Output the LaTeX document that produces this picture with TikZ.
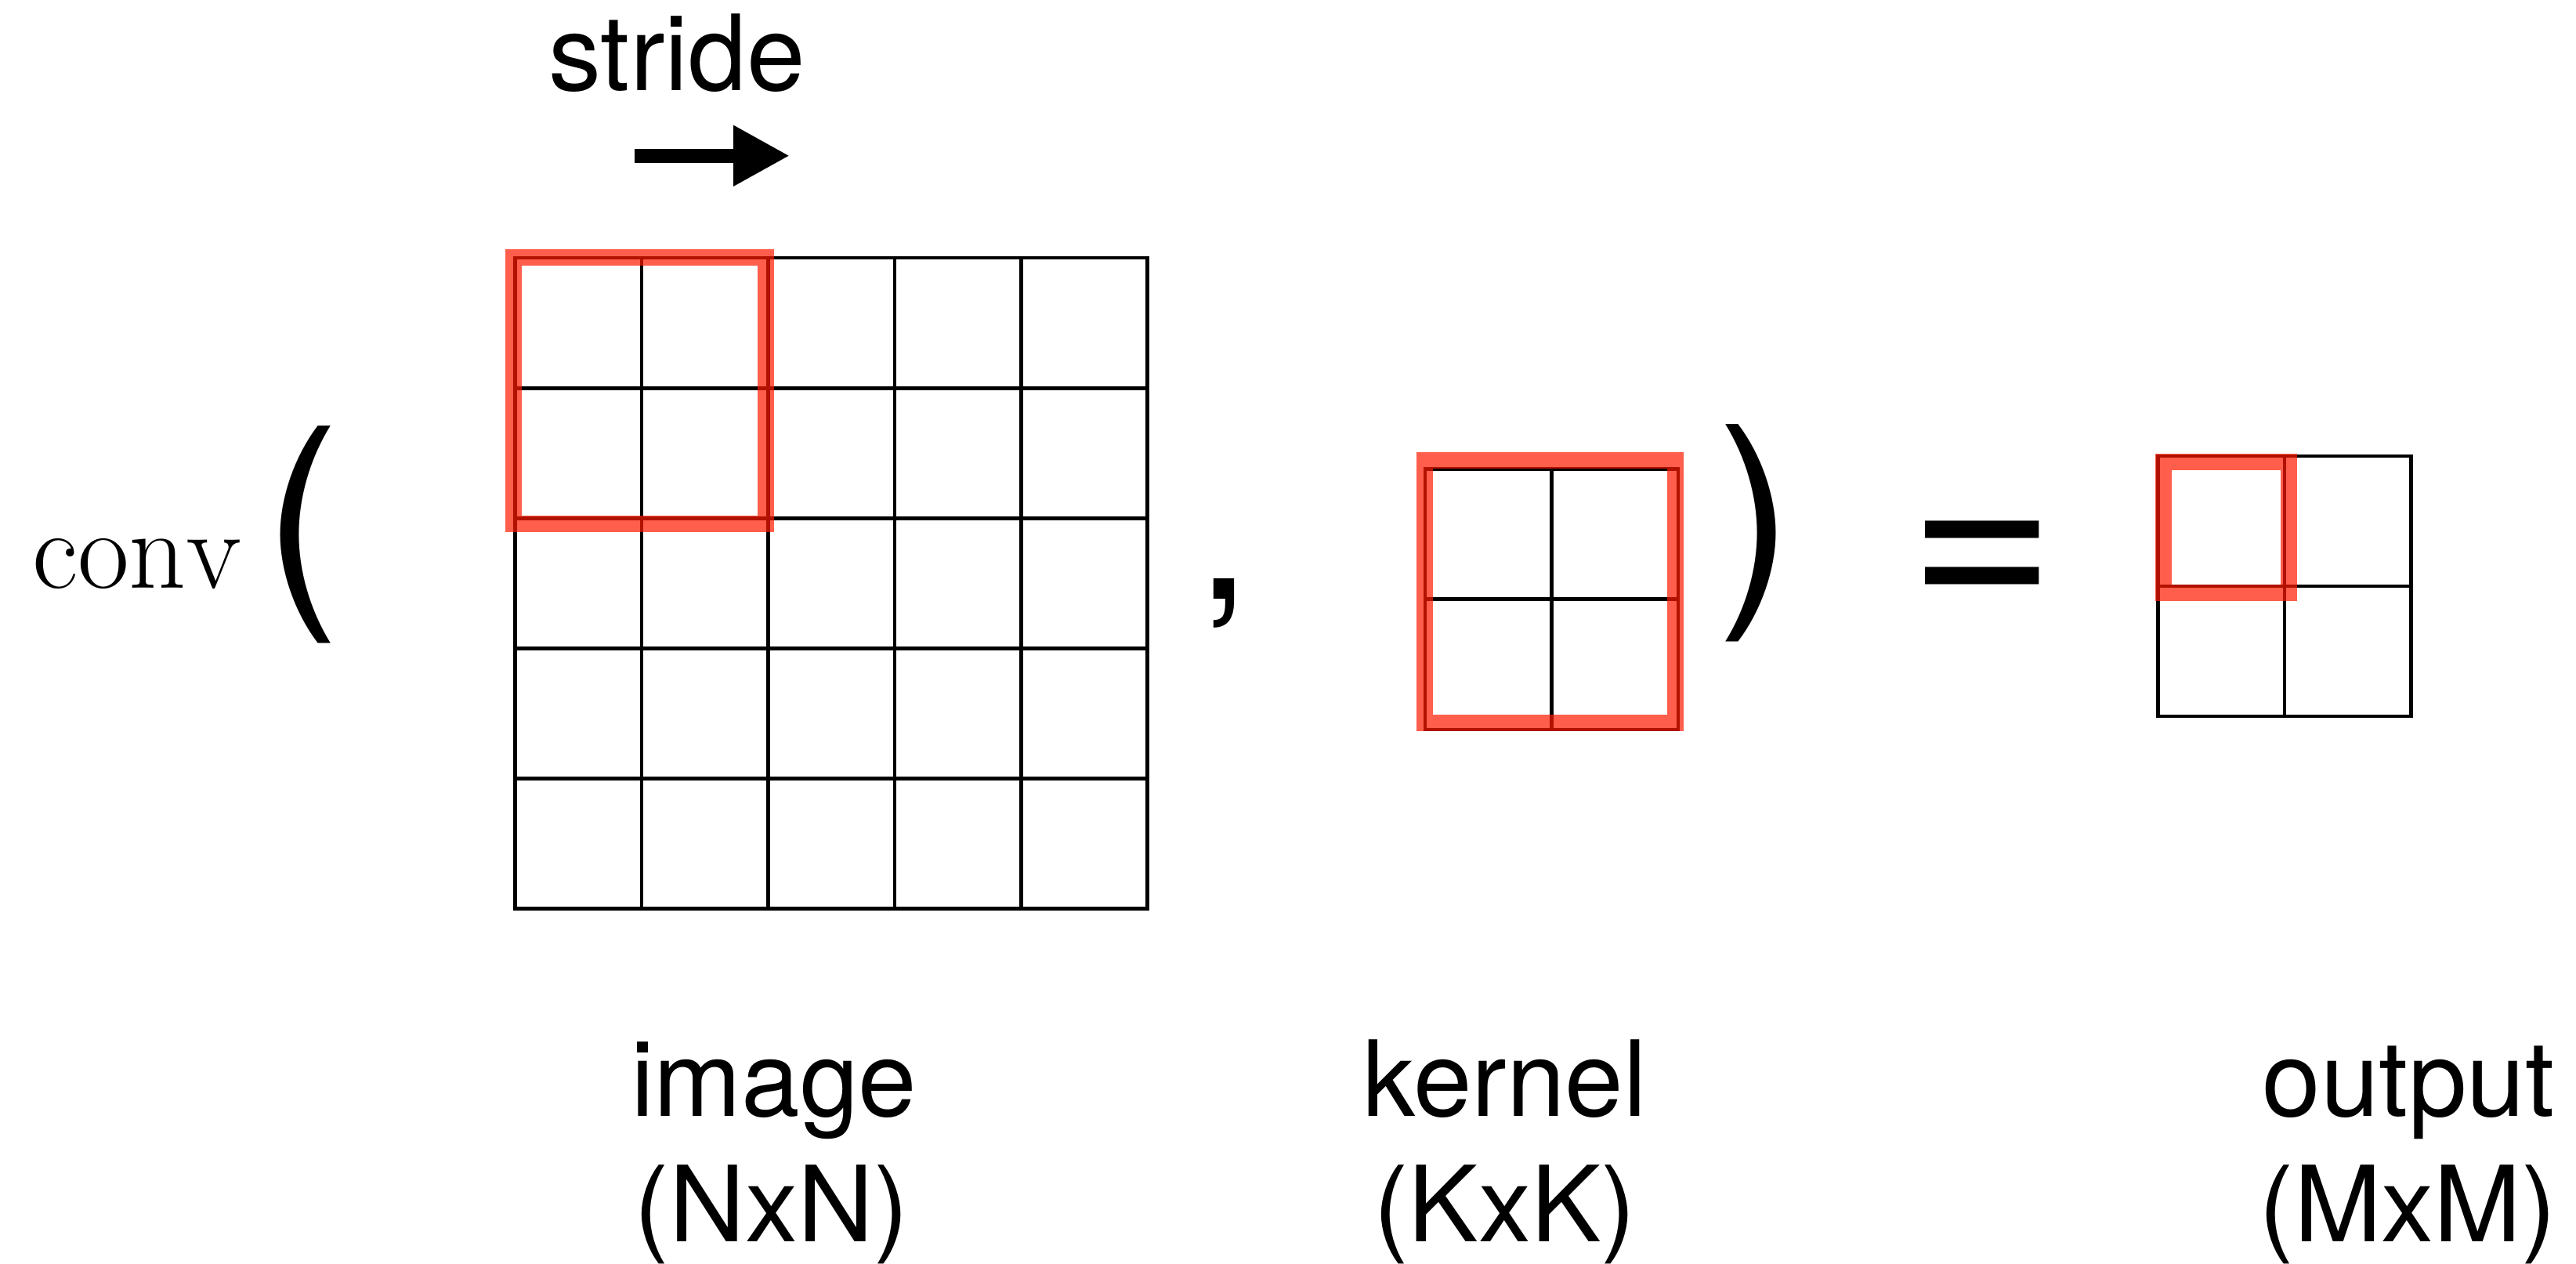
\documentclass[tikz,border=0pt]{standalone}
\usepackage{fontspec}
\newfontfamily\heros{TeX Gyre Heros}
\usetikzlibrary{arrows.meta}
\definecolor{winred}{RGB}{255,25,0}
\begin{document}
\begin{tikzpicture}[x=0.1mm, y=-0.1mm, line join=round, line cap=round, >=stealth,
		gridline/.style={line width=0.62pt, line cap=rect},
		window/.style={draw=winred, opacity=0.7, line width=1mm, line join=miter, line cap=rect},
		lbl/.style={inner sep=0, font=\heros\fontsize{18.2}{21.6}\selectfont},
		sym/.style={inner sep=0, anchor=base, font=\heros\fontsize{40}{46}\selectfont}]
					\def \cw{77};
					\def \ch{79.2};
					\useasboundingbox (0,0) rectangle (1568,769.2);
					\foreach \gx/\gy/\n in {313.5/157/5, 867.5/285.5/2, 1313.5/277.5/2}
					\foreach \i in {0,...,\n} {
						\draw[gridline] (\gx+\i*\cw,\gy) -- (\gx+\i*\cw,\gy+\n*\ch);
						\draw[gridline] (\gx,\gy+\i*\ch) -- (\gx+\n*\cw,\gy+\i*\ch);
					}
					\draw[window] (312.5,156.6) rectangle (466,319);
					\draw[window] (867,280) rectangle (1020,440);
					\draw[window] (1317,281) rectangle (1393,361);
					\coordinate (strideA) at (386.5,94.8);
					\coordinate (strideB) at (480.7,94.8);
					\draw[-{Triangle[length=3.43mm,width=3.47mm]}, line width=0.85mm, line cap=butt] (strideA) -- (strideB);
					\node[lbl, anchor=base] (stride) at (412,55) {stride};
					\node[anchor=base west, inner sep=0, font=\fontsize{19.4}{23}\selectfont] (conv) at (19,358) {$\mathrm{conv}$};
					\node[sym] (lparen) at (184.1,361.6) {(};
					\node[sym] (rparen) at (1068.4,361) {)};
					\node[sym, font=\heros\fontsize{34}{40}\selectfont] (comma) at (745,364.7) {,};
					\node[sym, font=\heros\fontsize{44}{50}\selectfont] (equals) at (1206.5,375) {=};
					\node[lbl, anchor=base] (image) at (471,679.5) {image};
					\node[lbl, anchor=base] (imagedim) at (469.6,755.5) {(NxN)};
					\node[lbl, anchor=base] (kernel) at (916,679.5) {kernel};
					\node[lbl, anchor=base] (kerneldim) at (916,755.5) {(KxK)};
					\node[lbl, anchor=base] (output) at (1466,679.5) {output};
					\node[lbl, anchor=base] (outputdim) at (1465.6,755.5) {(MxM)};
				\end{tikzpicture}
\end{document}
